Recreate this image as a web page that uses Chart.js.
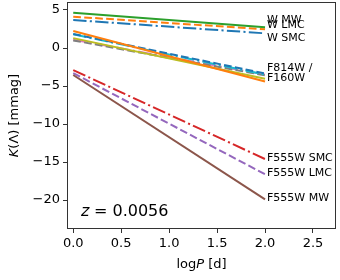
<!DOCTYPE html>
<html>
<head>
<meta charset="utf-8">
<script src="https://cdn.jsdelivr.net/npm/chart.js@4/dist/chart.umd.min.js"></script>
<style>
	html, body { margin: 0; padding: 0; background: #fff; overflow: hidden; }
	canvas { display: block; }
</style>
</head>
<body>
<canvas id="chart" width="340" height="280"></canvas>
<script>
// log P endpoints
const logP = [0, 2];

// K(Lambda) in mmag at logP = 0 and logP = 2
const wSMC = [3.68, 1.93];
const wLMC = [4.12, 2.46];
const wMW = [4.64, 2.72];
const f555SMC = [-2.9, -14.6];
const f555LMC = [-3.3, -16.6];
const f555MW = [-3.55, -19.9];
const f814SMC = [1.1, -3.5];
const f814LMC = [1.0, -3.6];
const f814MW = [1.3, -4.05];
const f160SMC = [1.8, -3.5];
const f160LMC = [1.85, -3.35];
const f160MW = [2.24, -4.4];

const yTicks = [5, 0, -5, -10, -15, -20];
const xTicks = [0, 0.5, 1, 1.5, 2, 2.5];

const labels = [
	{text: "W MW", x: 2.02, y: 3.7},
	{text: "W LMC", x: 2.02, y: 2.95},
	{text: "W SMC", x: 2.02, y: 1.3},
	{text: "F814W /", x: 2.02, y: -2.6},
	{text: "F160W", x: 2.02, y: -3.95},
	{text: "F555W SMC", x: 2.02, y: -14.5},
	{text: "F555W LMC", x: 2.02, y: -16.5},
	{text: "F555W MW", x: 2.02, y: -19.8},
];

const series = [
	{vals: wSMC, color: "#1f77b4", dash: "dashdot"},
	{vals: wLMC, color: "#ff7f0e", dash: "dashed"},
	{vals: wMW, color: "#2ca02c", dash: "solid"},
	{vals: f555SMC, color: "#d62728", dash: "dashdot"},
	{vals: f555LMC, color: "#9467bd", dash: "dashed"},
	{vals: f555MW, color: "#8c564b", dash: "solid"},
	{vals: f814SMC, color: "#e377c2", dash: "dashdot"},
	{vals: f814LMC, color: "#7f7f7f", dash: "dashed"},
	{vals: f814MW, color: "#bcbd22", dash: "solid"},
	{vals: f160SMC, color: "#17becf", dash: "dashdot"},
	{vals: f160LMC, color: "#1f77b4", dash: "dashed"},
	{vals: f160MW, color: "#ff7f0e", dash: "solid"},
];

const dashes = {
	solid: [],
	dashed: [7.7, 3.3],
	dashdot: [13.3, 3.3, 2.1, 3.3],
};

const FONT = "'DejaVu Sans', sans-serif";

function minus(v){
	return v < 0 ? "\u2212" + Math.abs(v) : String(v);
}

const datasets = series.map((s, i) => ({
	data: logP.map((x, j) => ({x: x, y: s.vals[j]})),
	borderColor: s.color,
	borderWidth: 2,
	borderDash: dashes[s.dash],
	borderCapStyle: "butt",
	pointRadius: 0,
	showLine: true,
	fill: false,
	order: series.length - i,
}));

const extras = {
	id: "extras",
	afterDraw(chart){
		const ctx = chart.ctx;
		const a = chart.chartArea;
		const xs = chart.scales.x;
		const ys = chart.scales.y;

		ctx.save();
		ctx.strokeStyle = "#333";
		ctx.lineWidth = 1;
		ctx.strokeRect(Math.round(a.left) + 0.5, Math.round(a.top) + 0.5, Math.round(a.right - a.left) - 1, Math.round(a.bottom - a.top) - 1);

		ctx.fillStyle = "#000";
		ctx.font = "11px " + FONT;
		ctx.textBaseline = "middle";
		ctx.textAlign = "left";
		labels.forEach((l) => {
			ctx.fillText(l.text, xs.getPixelForValue(l.x), ys.getPixelForValue(l.y));
		});

		// z annotation
		ctx.font = "italic 16px " + FONT;
		ctx.textBaseline = "alphabetic";
		ctx.fillText("z", 81, 216);
		ctx.font = "16px " + FONT;
		ctx.fillText("= 0.0056", 94, 216);

		// x title
		ctx.font = "13px " + FONT;
		ctx.textAlign = "left";
		const cx = (a.left + a.right) / 2;
		const w1 = ctx.measureText("log").width;
		ctx.font = "italic 13px " + FONT;
		const w2 = ctx.measureText("P").width;
		ctx.font = "13px " + FONT;
		const w3 = ctx.measureText(" [d]").width;
		let x0 = cx - (w1 + w2 + w3) / 2;
		const yb = 268;
		ctx.fillText("log", x0, yb);
		ctx.font = "italic 13px " + FONT;
		ctx.fillText("P", x0 + w1, yb);
		ctx.font = "13px " + FONT;
		ctx.fillText(" [d]", x0 + w1 + w2, yb);

		// y title
		ctx.translate(18, (a.top + a.bottom) / 2);
		ctx.rotate(-Math.PI / 2);
		ctx.font = "italic 13px " + FONT;
		const k = ctx.measureText("K").width;
		ctx.font = "13px " + FONT;
		const rest = ctx.measureText("(\u039b) [mmag]").width;
		x0 = -(k + rest) / 2;
		ctx.font = "italic 13px " + FONT;
		ctx.fillText("K", x0, 0);
		ctx.font = "13px " + FONT;
		ctx.fillText("(\u039b) [mmag]", x0 + k, 0);
		ctx.restore();
	}
};

new Chart(document.getElementById("chart").getContext("2d"), {
	type: "scatter",
	data: {datasets: datasets},
	plugins: [extras],
	options: {
		responsive: false,
		animation: false,
		devicePixelRatio: 1,
		layout: {padding: {top: 2, right: 4, left: 0, bottom: 0}},
		plugins: {legend: {display: false}, tooltip: {enabled: false}},
		scales: {
			x: {
				type: "linear",
				min: -0.065,
				max: 2.74,
				afterBuildTicks: (s) => { s.ticks = xTicks.map((v) => ({value: v})); },
				afterFit: (s) => { s.height = 51; s.paddingLeft = 0; s.paddingRight = 0; },
				grid: {drawOnChartArea: false, drawTicks: true, tickLength: 4, color: "#333"},
				border: {display: false},
				ticks: {
					color: "#000",
					padding: 3,
					font: {family: FONT, size: 13},
					callback: (v) => v.toFixed(1),
					maxRotation: 0,
				},
			},
			y: {
				type: "linear",
				min: -23.8,
				max: 6.05,
				afterBuildTicks: (s) => { s.ticks = yTicks.map((v) => ({value: v})); },
				afterFit: (s) => { s.width = 67; s.paddingTop = 0; s.paddingBottom = 0; },
				grid: {drawOnChartArea: false, drawTicks: true, tickLength: 4, color: "#333"},
				border: {display: false},
				ticks: {
					color: "#000",
					padding: 3,
					font: {family: FONT, size: 13},
					callback: (v) => minus(v),
				},
			},
		},
	},
});
</script>
</body>
</html>
